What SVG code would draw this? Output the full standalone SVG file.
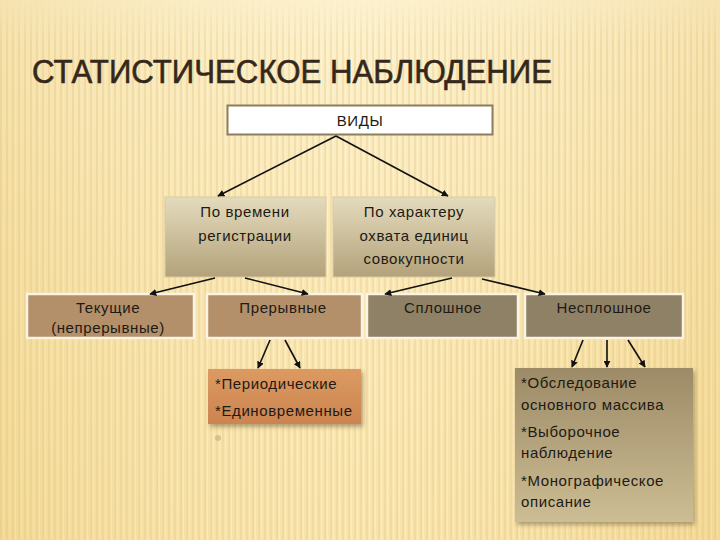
<svg xmlns="http://www.w3.org/2000/svg" width="720" height="540" viewBox="0 0 720 540">
<defs>
<linearGradient id="bg" x1="0" y1="0" x2="0" y2="1">
<stop offset="0" stop-color="#fcf0cc"/>
<stop offset="0.5" stop-color="#f8e5b0"/>
<stop offset="1" stop-color="#f6dfa2"/>
</linearGradient>
<linearGradient id="bgh" x1="0" y1="0" x2="1" y2="0">
<stop offset="0" stop-color="#eccf85" stop-opacity="0.4"/>
<stop offset="0.5" stop-color="#fff6d8" stop-opacity="0.2"/>
<stop offset="1" stop-color="#ebcb80" stop-opacity="0.35"/>
</linearGradient>
<pattern id="stripes" width="6" height="540" patternUnits="userSpaceOnUse">
<rect x="0" y="0" width="2" height="540" fill="#e4c785" opacity="0.45"/>
<rect x="3" y="0" width="1" height="540" fill="#fff8e0" opacity="0.45"/>
</pattern>
<linearGradient id="stripeFade" x1="0" y1="0" x2="0" y2="1">
<stop offset="0" stop-color="#fff" stop-opacity="0"/>
<stop offset="0.08" stop-color="#fff" stop-opacity="1"/>
<stop offset="1" stop-color="#fff" stop-opacity="1"/>
</linearGradient>
<mask id="sm"><rect width="720" height="540" fill="url(#stripeFade)"/></mask>
<linearGradient id="mid" x1="0" y1="0" x2="0" y2="1">
<stop offset="0" stop-color="#e4dbbd"/>
<stop offset="1" stop-color="#b3a27b"/>
</linearGradient>
<linearGradient id="orange" x1="0" y1="0" x2="0" y2="1">
<stop offset="0" stop-color="#dc9a62"/>
<stop offset="1" stop-color="#cc8450"/>
</linearGradient>
<linearGradient id="olive" x1="0" y1="0" x2="0" y2="1">
<stop offset="0" stop-color="#9c8b66"/>
<stop offset="1" stop-color="#cdbd94"/>
</linearGradient>
<linearGradient id="uline" x1="0" y1="0" x2="1" y2="0">
<stop offset="0" stop-color="#c9a85a"/>
<stop offset="0.5" stop-color="#e0a84a"/>
<stop offset="1" stop-color="#e8b866"/>
</linearGradient>
<filter id="sh" x="-10%" y="-10%" width="125%" height="130%">
<feDropShadow dx="2" dy="3" stdDeviation="2" flood-color="#5a4a30" flood-opacity="0.45"/>
</filter>
<marker id="ah" viewBox="0 0 10 10" refX="9" refY="5" markerWidth="7" markerHeight="7" orient="auto-start-reverse" markerUnits="userSpaceOnUse">
<path d="M0,0 L10,5 L0,10 z" fill="#111"/>
</marker>
</defs>
<style>
.t{font-family:"Liberation Sans",Arial,sans-serif;font-size:15px;letter-spacing:0.6px;fill:#1e1a14;text-anchor:middle;}
.l{font-family:"Liberation Sans",Arial,sans-serif;font-size:15px;letter-spacing:0.6px;fill:#1e1a14;}
.c line{stroke:#111;stroke-width:1.6;marker-end:url(#ah);}
.wb{stroke:#fbf4e2;stroke-width:2.5;}
</style>
<rect width="720" height="540" fill="url(#bg)"/>
<rect width="720" height="540" fill="url(#stripes)" mask="url(#sm)"/>
<rect width="720" height="540" fill="url(#bgh)"/>

<g id="title">
<line x1="32" y1="84.5" x2="720" y2="84.5" stroke="url(#uline)" stroke-width="2"/>
<text x="32" y="83" font-family="'Liberation Sans',Arial,sans-serif" font-size="33" fill="#35281a" stroke="#35281a" stroke-width="0.6" textLength="520" lengthAdjust="spacingAndGlyphs">СТАТИСТИЧЕСКОЕ НАБЛЮДЕНИЕ</text>
</g>

<g id="vidy">
<rect x="227.5" y="105.5" width="265" height="29" fill="#ffffff" stroke="#8c7d5e" stroke-width="2"/>
<text class="t" x="360" y="126">ВИДЫ</text>
</g>

<g id="po-vremeni">
<rect x="165" y="197" width="161" height="80" fill="url(#mid)" stroke="#d8cba4" stroke-width="1"/>
<text class="t" x="245" y="217">По времени</text>
<text class="t" x="245" y="241">регистрации</text>
</g>

<g id="po-harakteru">
<rect x="333" y="197" width="162" height="80" fill="url(#mid)" stroke="#d8cba4" stroke-width="1"/>
<text class="t" x="414" y="217">По характеру</text>
<text class="t" x="414" y="241">охвата единиц</text>
<text class="t" x="414" y="264">совокупности</text>
</g>

<g id="tekushchie">
<rect x="27" y="294" width="167" height="44" fill="#b38f6a" class="wb"/>
<text class="t" x="108" y="313">Текущие</text>
<text class="t" x="108" y="333">(непрерывные)</text>
</g>

<g id="preryvnye">
<rect x="207" y="294" width="155" height="44" fill="#b38f6a" class="wb"/>
<text class="t" x="283" y="313">Прерывные</text>
</g>

<g id="sploshnoe">
<rect x="367" y="294" width="151" height="44" fill="#8e8166" class="wb"/>
<text class="t" x="443" y="313">Сплошное</text>
</g>

<g id="nesploshnoe">
<rect x="525" y="294" width="158" height="44" fill="#8e8166" class="wb"/>
<text class="t" x="604" y="313">Несплошное</text>
</g>

<g id="periodicheskie">
<rect x="208" y="369" width="153" height="55" fill="url(#orange)" filter="url(#sh)"/>
<text class="l" x="215" y="389">*Периодические</text>
<text class="l" x="215" y="416">*Единовременные</text>
</g>

<circle cx="218" cy="438" r="3" fill="#c9b48a" opacity="0.7"/>

<g id="vyborochnoe">
<rect x="515" y="368" width="178" height="154" fill="url(#olive)" filter="url(#sh)"/>
<text class="l" x="521" y="388">*Обследование</text>
<text class="l" x="521" y="410">основного массива</text>
<text class="l" x="521" y="437">*Выборочное</text>
<text class="l" x="521" y="458">наблюдение</text>
<text class="l" x="521" y="486">*Монографическое</text>
<text class="l" x="521" y="507">описание</text>
</g>

<g id="connectors" class="c">
<line x1="336" y1="136" x2="218" y2="196"/>
<line x1="336" y1="136" x2="448" y2="196"/>
<line x1="215" y1="278" x2="150" y2="294"/>
<line x1="245" y1="278" x2="308" y2="294"/>
<line x1="452" y1="278" x2="385" y2="294"/>
<line x1="482" y1="279" x2="545" y2="294"/>
<line x1="270" y1="340" x2="258" y2="368"/>
<line x1="285" y1="340" x2="300" y2="368"/>
<line x1="583" y1="340" x2="572" y2="367"/>
<line x1="607" y1="340" x2="607" y2="367"/>
<line x1="628" y1="340" x2="645" y2="367"/>
</g>
</svg>
